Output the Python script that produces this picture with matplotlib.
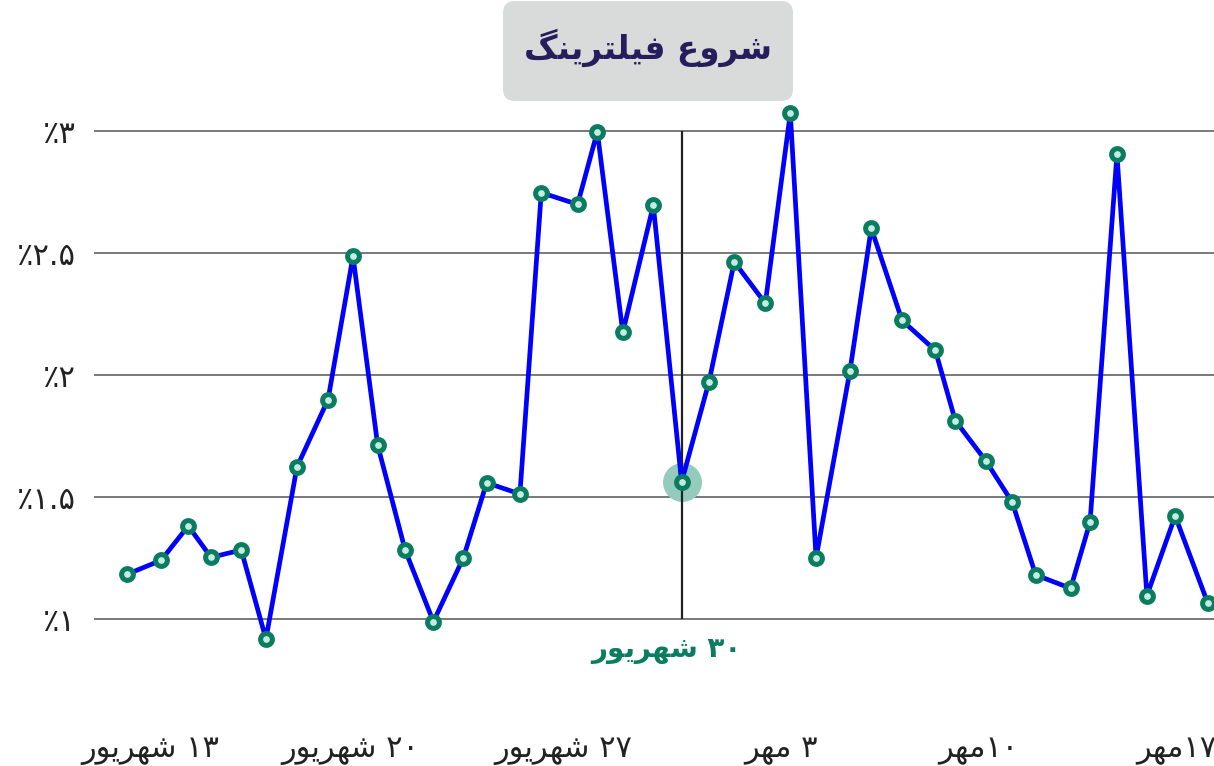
import matplotlib
matplotlib.use("Agg")
import matplotlib.pyplot as plt
from matplotlib.patches import FancyBboxPatch
from matplotlib.transforms import IdentityTransform

plt.rcParams['font.family'] = ['DejaVu Sans']

# data (x in steps, y in percent)
xs = [0.00, 1.24, 2.22, 3.04, 4.13, 5.02, 6.14, 7.26, 8.16, 9.05,
      10.04, 11.06, 12.14, 12.98, 14.18, 14.95, 16.26, 16.97, 17.89, 18.99,
      20.01, 21.00, 21.91, 23.03, 23.93, 24.86, 26.08, 26.85, 27.96, 29.16,
      29.88, 30.98, 31.93, 32.78, 34.04, 34.74, 35.71, 36.79, 37.81, 38.99]
values = [1.183, 1.241, 1.382, 1.253, 1.283, 0.918, 1.624, 1.900, 2.488, 1.713,
          1.283, 0.989, 1.251, 1.559, 1.513, 2.749, 2.701, 2.999, 2.176, 2.697,
          1.562, 1.974, 2.465, 2.295, 3.075, 1.251, 2.017, 2.603, 2.225, 2.102,
          1.814, 1.649, 1.480, 1.181, 1.126, 1.398, 2.906, 1.096, 1.423, 1.064]
filter_idx = 20

xtick_pos = [0.85, 8.05, 15.75, 23.6, 30.7, 37.85]
xtick_text = ['۱۳ شهریور', '۲۰ شهریور', '۲۷ شهریور', '۳ مهر', '۱۰مهر', '۱۷مهر']
ytick_pos = [1, 1.5, 2, 2.5, 3]
ytick_text = ['٪۱', '٪۱.۵', '٪۲', '٪۲.۵', '٪۳']

title = 'شروع فیلترینگ'
filter_label = '۳۰ شهریور'

# tiny persian shaper, matplotlib 3.10 does not join arabic letters
FORMS = {
    'ش': ('\uFEB5', '\uFEB6', '\uFEB7', '\uFEB8'),
    'ر': ('\uFEAD', '\uFEAE', None, None),
    'و': ('\uFEED', '\uFEEE', None, None),
    'ع': ('\uFEC9', '\uFECA', '\uFECB', '\uFECC'),
    'ف': ('\uFED1', '\uFED2', '\uFED3', '\uFED4'),
    'ی': ('\uFBFC', '\uFBFD', '\uFBFE', '\uFBFF'),
    'ل': ('\uFEDD', '\uFEDE', '\uFEDF', '\uFEE0'),
    'ت': ('\uFE95', '\uFE96', '\uFE97', '\uFE98'),
    'ن': ('\uFEE5', '\uFEE6', '\uFEE7', '\uFEE8'),
    'گ': ('\uFB92', '\uFB93', '\uFB94', '\uFB95'),
    'ه': ('\uFEE9', '\uFEEA', '\uFEEB', '\uFEEC'),
    'م': ('\uFEE1', '\uFEE2', '\uFEE3', '\uFEE4'),
}
NUM = set('۰۱۲۳۴۵۶۷۸۹.٪')


def shape(s):
    out = ''
    for i, c in enumerate(s):
        if c not in FORMS:
            out += c
            continue
        prev_join = i > 0 and s[i - 1] in FORMS and FORMS[s[i - 1]][2] is not None
        next_join = i < len(s) - 1 and s[i + 1] in FORMS
        dual = FORMS[c][2] is not None
        if prev_join and next_join and dual:
            out += FORMS[c][3]
        elif prev_join:
            out += FORMS[c][1]
        elif next_join and dual:
            out += FORMS[c][2]
        else:
            out += FORMS[c][0]
    return out


def rtl(text):
    runs = []
    for ch in text:
        kind = 'n' if ch in NUM else 'a'
        if runs and runs[-1][0] == kind:
            runs[-1][1] += ch
        else:
            runs.append([kind, ch])
    res = ''
    for kind, s in reversed(runs):
        res += s if kind == 'n' else shape(s)[::-1]
    return res


fig = plt.figure(figsize=(12.14, 7.66), dpi=100)
ax = fig.add_axes([94 / 1214, 1 - 660 / 766, 1120 / 1214, 560 / 766])

ax.set_xlim(-1.18, 39.21)
ax.set_ylim(0.832, 3.129)

ax.set_yticks(ytick_pos)
ax.set_yticklabels(ytick_text)
ax.set_xticks(xtick_pos)
ax.set_xticklabels([rtl(t) for t in xtick_text])
ax.tick_params(axis='y', length=0, pad=13, labelsize=22, labelcolor='#222222')
ax.tick_params(axis='x', length=0, pad=55, labelsize=22, labelcolor='#222222')
for sp in ax.spines.values():
    sp.set_visible(False)
ax.grid(axis='y', color='#555555', linewidth=1.1)
ax.set_axisbelow(True)

# highlight of the filtering day
ax.plot(xs[filter_idx], values[filter_idx], 'o', ms=28, color='#95cbbd',
        markeredgewidth=0, zorder=2)
ax.vlines(xs[filter_idx], 1, 3, color='#222222', linewidth=1.6, zorder=3)

ax.plot(xs, values, color='#0000ff', linewidth=3.4, zorder=4, clip_on=False)
ax.plot(xs, values, 'o', ms=8.5, markerfacecolor='#c8ebe1', markeredgecolor='#0a7d60',
        markeredgewidth=3.6, zorder=5, clip_on=False)

ax.text(19.45, 0.873, rtl(filter_label), ha='center', va='center', fontsize=20,
        fontweight='bold', color='#0a7d60')

# title box at the top
box = FancyBboxPatch((503, 665), 290, 100, boxstyle='round,pad=0,rounding_size=12',
                     transform=IdentityTransform(), facecolor='#d9dada', edgecolor='none')
fig.add_artist(box)
fig.text(648 / 1214, 1 - 48 / 766, rtl(title), ha='center', va='center', fontsize=23.5,
         fontweight='bold', color='#241f5c')

fig.savefig('out.png', dpi=100)
